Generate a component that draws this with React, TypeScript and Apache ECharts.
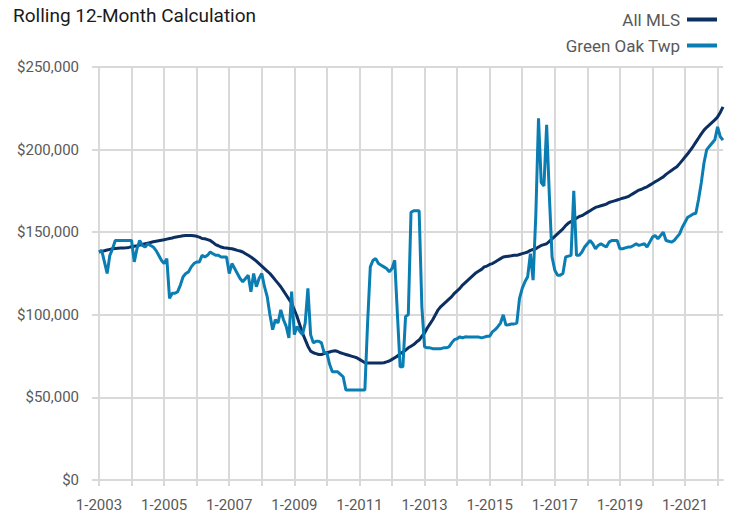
import React, { useEffect, useRef } from "react";
import * as echarts from "echarts";

const startYear = 2003;
const monthCount = 231;

const allMLS: number[] = [
  138.0, 138.4, 138.8, 139.2, 139.6, 140.0, 140.2, 140.3, 140.4, 140.5, 140.6, 140.8,
  141.2, 141.5, 141.8, 142.2, 142.6, 143.0, 143.4, 143.8, 144.2, 144.5, 144.8, 145.1,
  145.4, 145.8, 146.2, 146.5, 147.0, 147.3, 147.5, 147.8, 148.0, 148.0, 148.0, 147.8,
  147.5, 147.0, 146.2, 146.0, 145.5, 145.0, 143.8, 142.5, 141.8, 141.0, 140.6, 140.4,
  140.2, 140.0, 139.5, 139.0, 138.6, 138.0, 137.0, 136.0, 135.0, 133.8, 132.5, 131.0,
  129.5, 128.0, 126.5, 125.0, 123.0, 121.0, 119.0, 117.0, 114.5, 112.0, 109.5, 107.0,
  103.0, 99.0, 94.0, 89.0, 85.0, 81.0, 78.0, 77.0, 76.5, 76.0, 76.0, 76.5,
  77.0, 77.5, 78.0, 78.2, 77.8, 77.0, 76.5, 76.0, 75.5, 75.0, 74.5, 74.0,
  73.0, 72.0, 71.0, 70.8, 70.8, 70.8, 70.8, 70.8, 70.8, 71.0, 71.5, 72.0,
  73.0, 74.0, 75.0, 76.5, 77.5, 78.6, 80.0, 81.0, 82.0, 83.5, 84.7, 87.0,
  89.0, 92.0, 94.5, 97.0, 100.0, 103.0, 105.0, 106.5, 108.0, 109.5, 111.0, 113.0,
  114.5, 116.0, 118.0, 119.5, 121.0, 122.5, 124.0, 125.5, 126.5, 127.5, 129.0, 129.5,
  130.5, 131.0, 132.0, 133.0, 134.0, 135.0, 135.3, 135.5, 135.7, 136.0, 136.0, 136.5,
  137.0, 137.5, 138.0, 139.0, 139.5, 140.0, 141.0, 142.0, 142.5, 143.0, 144.5, 146.0,
  147.5, 149.0, 150.5, 152.0, 154.0, 155.5, 156.5, 157.5, 158.5, 159.5, 160.0, 161.0,
  162.0, 163.0, 164.0, 165.0, 165.5, 166.0, 166.5, 167.0, 168.0, 168.5, 169.0, 169.5,
  170.0, 170.6, 171.0, 171.5, 172.5, 173.5, 174.5, 175.5, 176.0, 176.8, 177.5, 178.5,
  179.5, 180.5, 181.5, 182.5, 183.5, 185.0, 186.2, 187.4, 188.5, 189.6, 191.5, 193.5,
  195.5, 197.5, 199.7, 202.0, 204.5, 207.0, 209.5, 211.8, 213.5, 215.0, 216.5, 218.0,
  219.8, 222.5, 225.9,
];

const greenOak: number[] = [
  138, 139, 132, 125, 136, 140, 145, 145, 145, 145, 145, 145,
  145, 132, 140, 145, 142, 141, 143, 142, 141, 139, 136, 133,
  131, 134, 110, 113, 113, 114, 118, 123, 125, 126, 129, 131,
  132, 132, 136, 135, 136, 138, 137, 136, 136, 135, 135, 135,
  125, 131, 128, 125, 122, 120, 122, 124, 114, 125, 117, 122,
  125, 117, 111, 100, 91, 97, 95, 103, 97, 93, 86, 114,
  88, 93, 90, 88, 95, 116, 88, 83, 84, 84, 83, 77,
  77, 70, 65.5, 65.5, 65.5, 64, 62.5, 54.5, 54.5, 54.5, 54.5, 54.5,
  54.5, 54.5, 54.5, 95, 129, 133, 134, 131, 130, 129, 128, 126,
  128, 133, 100, 68.5, 68.5, 99, 100, 162, 163, 163, 163, 105,
  80.6, 80, 80, 79.5, 79.5, 79.5, 79.5, 80, 80, 80.6, 83, 85,
  85.5, 86.7, 86, 86.7, 86.5, 86.5, 86.5, 86.5, 86.5, 86, 86.5, 87,
  87, 89.7, 91, 92.8, 95, 100, 93.8, 94, 94.4, 94.5, 95, 110,
  116, 120, 123, 137, 121, 160, 219, 180, 178, 215, 172, 135,
  127, 124, 124, 125, 135, 135.5, 136, 175, 136, 136, 138, 141,
  143, 145, 143, 140, 142, 143, 142, 141, 144, 145, 145, 145,
  140, 140, 140.5, 141, 141, 142, 143, 142, 142.5, 143, 141, 144,
  147, 148, 146, 148, 150, 145, 144.5, 144, 145, 147, 149, 153,
  156, 159, 160, 161, 161.5, 170, 180, 192, 200, 202, 204, 206,
  213.8, 207.8, 205.7,
];

const categories: string[] = Array.from({ length: monthCount }, (_, i) => {
  const y = startYear + Math.floor(i / 12);
  const m = (i % 12) + 1;
  return `${m}-${y}`;
});

const seriesNames = ["All MLS", "Green Oak Twp"];
const FONT = "'Roboto', sans-serif";

export default function App() {
  const ref = useRef<HTMLDivElement>(null);
  useEffect(() => {
    if (!ref.current) return;
    const chart = echarts.init(ref.current, null, { renderer: "svg" });
    chart.setOption({
      animation: false,
      textStyle: { fontFamily: FONT },
      title: {
        text: "Rolling 12-Month Calculation",
        left: 8,
        top: 1,
        textStyle: { fontFamily: FONT, fontSize: 19, fontWeight: "normal", color: "#1a1a1a" },
      },
      legend: {
        data: seriesNames,
        orient: "vertical",
        right: 10,
        top: 6,
        align: "right",
        itemGap: 9,
        itemWidth: 30,
        itemHeight: 4,
        icon: "rect",
        textStyle: { fontFamily: FONT, fontSize: 17, color: "#595959", padding: [0, 2, 0, 0] },
      },
      grid: { left: 99, right: 9, top: 67, bottom: 35, containLabel: false },
      xAxis: {
        type: "category",
        data: categories,
        boundaryGap: false,
        axisLine: { show: true, lineStyle: { color: "#d9d9d9", width: 2 } },
        axisTick: {
          show: true,
          length: 6,
          interval: (idx: number) => idx % 12 === 0,
          lineStyle: { color: "#d9d9d9", width: 2 },
        },
        axisLabel: {
          interval: (idx: number) => idx % 24 === 0,
          fontFamily: FONT,
          fontSize: 15,
          color: "#595959",
          margin: 17,
        },
        splitLine: {
          show: true,
          interval: (idx: number) => idx % 12 === 0,
          lineStyle: { color: "#d9d9d9", width: 2 },
        },
      },
      yAxis: {
        type: "value",
        min: 0,
        max: 250000,
        interval: 50000,
        axisLine: { show: false },
        axisTick: { show: true, length: 7, lineStyle: { color: "#d9d9d9", width: 2 } },
        axisLabel: {
          fontFamily: FONT,
          fontSize: 15,
          color: "#595959",
          margin: 20,
          formatter: (v: number) => "$" + v.toLocaleString("en-US"),
        },
        splitLine: { show: true, lineStyle: { color: "#d9d9d9", width: 2 } },
      },
      series: [
        {
          name: seriesNames[0],
          type: "line",
          data: allMLS.map((v) => v * 1000),
          symbol: "none",
          lineStyle: { width: 3, color: "#0b2f61" },
          itemStyle: { color: "#0b2f61" },
          z: 2,
        },
        {
          name: seriesNames[1],
          type: "line",
          data: greenOak.map((v) => v * 1000),
          symbol: "none",
          lineStyle: { width: 3, color: "#0a7db3" },
          itemStyle: { color: "#0a7db3" },
          z: 3,
        },
      ],
    });
    return () => chart.dispose();
  }, []);
  return <div ref={ref} style={{ width: 732, height: 515, position: "absolute", left: 0, top: 0 }} />;
}
